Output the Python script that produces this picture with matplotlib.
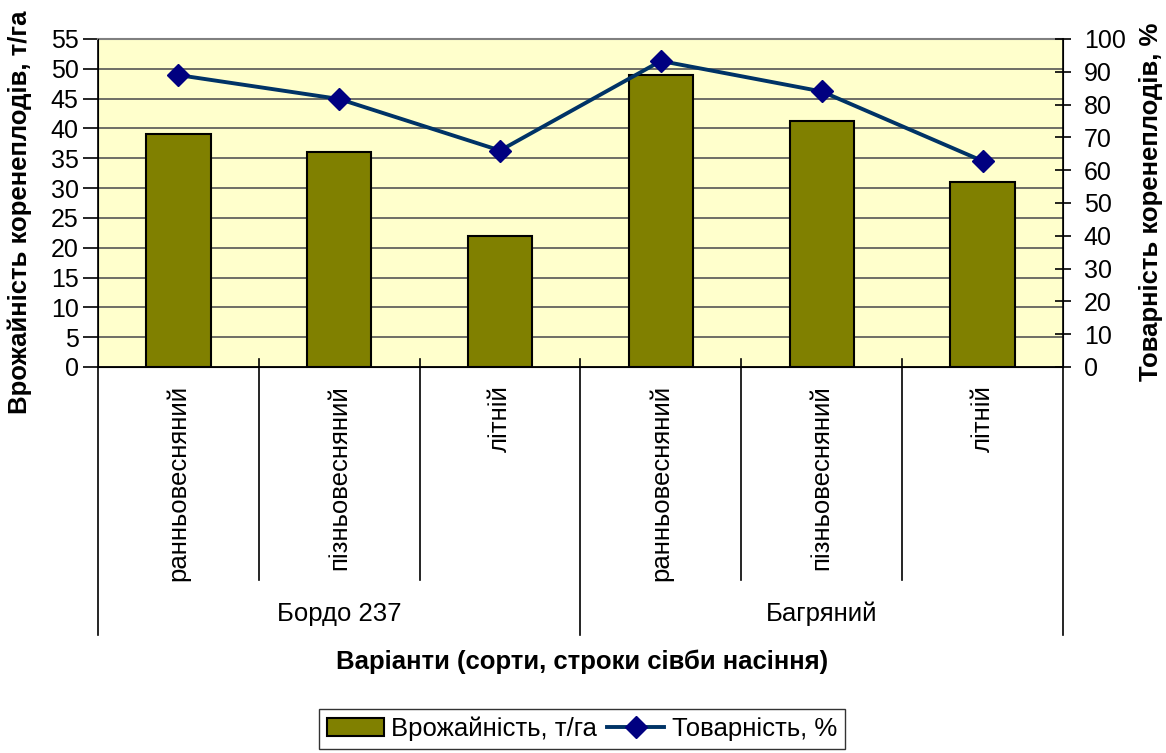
import matplotlib
matplotlib.use("Agg")
import matplotlib.pyplot as plt
import matplotlib.transforms as mtransforms
from matplotlib.lines import Line2D
from matplotlib.patches import Patch

plt.rcParams['font.family'] = ['Liberation Sans', 'DejaVu Sans']

groups = ["Бордо 237", "Багряний"]
sowing = ["ранньовесняний", "пізньовесняний", "літній"]
yield_t = [39, 36, 22, 49, 41.3, 31]
market_pct = [89, 81.7, 66, 93.3, 84, 62.8]

FS = 18.5

fig = plt.figure(figsize=(11.66, 7.53), dpi=100)
ax = fig.add_axes([98/1166, 1-367/753, 965/1166, 328/753])
ax.set_facecolor("#FFFFCC")

n = len(yield_t)
xs = list(range(n))
ax.bar(xs, yield_t, width=0.4, color="#808000", edgecolor="black", linewidth=1.5, zorder=3)
ax.set_xlim(-0.5, n-0.5)
ax.set_ylim(0, 55)
ax.set_yticks(range(0, 56, 5))
ax.yaxis.grid(True, color="#555555", linewidth=1.2, zorder=0)
ax.set_axisbelow(True)
ax.tick_params(axis='y', direction='out', length=11, labelsize=18, width=1.2, pad=3)
ax.set_xticks([])
ax.spines['top'].set_color("#808080")
ax.spines['top'].set_linewidth(1.5)
ax.spines['left'].set_linewidth(1.2)
ax.spines['bottom'].set_linewidth(1.2)

ax2 = ax.twinx()
ax2.plot(xs, market_pct, color="#003366", linewidth=2.8, marker='D', markersize=11,
         markerfacecolor="#000080", markeredgecolor="#000080", zorder=5, clip_on=False)
ax2.set_ylim(0, 100)
ax2.set_yticks(range(0, 101, 10))
ax2.tick_params(axis='y', direction='inout', length=12, labelsize=18, width=1.2, pad=9)
ax2.spines['top'].set_visible(False)
ax2.spines['right'].set_linewidth(1.2)

fig.text(20/1166, 1-212/753, "Врожайність коренеплодів, т/га", rotation=90, ha='center', va='center',
         fontsize=FS, fontweight='bold')
fig.text(1151/1166, 1-202/753, "Товарність коренеплодів, %", rotation=90, ha='center', va='center',
         fontsize=FS, fontweight='bold')

trans = mtransforms.blended_transform_factory(ax.transData, ax.transAxes)
k = len(sowing)
for i in range(1, n):
    x = i - 0.5
    y0 = -268/328 if i % k == 0 else -213/328
    ax.plot([x, x], [8/328, y0], transform=trans, color="black", linewidth=1.2, clip_on=False, zorder=6)
for x in [-0.5, n-0.5]:
    ax.plot([x, x], [0, -268/328], transform=trans, color="black", linewidth=1.2, clip_on=False, zorder=6)

for i in range(n):
    ax.annotate(sowing[i % k], xy=(xs[i], 0), xycoords=trans, xytext=(0, -13), textcoords='offset points',
                rotation=90, ha='center', va='top', fontsize=FS)
for g, name in enumerate(groups):
    cx = (g*k + g*k + k - 1) / 2
    ax.annotate(name, xy=(cx, 0), xycoords=trans, xytext=(0, -178), textcoords='offset points',
                ha='center', va='center', fontsize=FS)

fig.text(582/1166, 1-662/753, "Варіанти (сорти, строки сівби насіння)", ha='center', va='center',
         fontsize=FS, fontweight='bold')

handles = [Patch(facecolor="#808000", edgecolor="black", linewidth=1.5),
           Line2D([0], [0], color="#003366", linewidth=2.8, marker='D', markersize=11,
                  markerfacecolor="#000080", markeredgecolor="#000080")]
leg = fig.legend(handles, ["Врожайність, т/га", "Товарність, %"], loc='center',
                 bbox_to_anchor=(582/1166, 1-729/753), ncol=2, fontsize=FS, frameon=True,
                 fancybox=False, edgecolor="black", handlelength=2.2, handletextpad=0.3,
                 columnspacing=0.4, borderpad=0.3)
leg.get_frame().set_linewidth(1.0)

fig.savefig("out.png", dpi=100)
